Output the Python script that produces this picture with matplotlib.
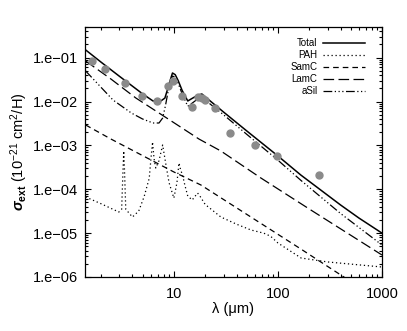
import math
import matplotlib
matplotlib.use("Agg")
import matplotlib.pyplot as plt
from matplotlib.ticker import FixedLocator, FuncFormatter, LogLocator, NullFormatter

plt.rcParams['font.family'] = ['Liberation Sans', 'DejaVu Sans']
plt.rcParams['mathtext.fontset'] = 'custom'
plt.rcParams['mathtext.rm'] = 'Liberation Sans'
plt.rcParams['mathtext.it'] = 'Liberation Sans:italic'
plt.rcParams['mathtext.bf'] = 'Liberation Sans:bold'
plt.rcParams['mathtext.bfit'] = 'Liberation Sans:italic:bold'

# ---- data (wavelength in micron, cross-section in 1e-21 cm^2/H) ----
total_wl = [1.42, 2.0, 3.0, 5.0, 6.3, 7.5, 8.2, 8.7, 9.2, 9.7, 10.3, 11.0, 12.0,
            13.6, 15.0, 17.0, 18.6, 20.0, 30.0, 50.0, 100.0, 166.0, 400.0, 600.0, 1000.0]
total_val = [0.150, 0.0788, 0.0376, 0.0150, 0.0103, 0.0103, 0.012, 0.019, 0.030, 0.0447,
             0.041, 0.030, 0.018, 0.0103, 0.0118, 0.014, 0.01485, 0.0128, 5.77e-3,
             2.15e-3, 5.74e-4, 2.11e-4, 4.38e-5, 2.21e-5, 1.0e-5]

pah_wl = [1.42, 2.0, 2.96, 3.15, 3.25, 3.3, 3.35, 3.45, 4.0, 4.6, 5.18, 5.8, 6.0, 6.24,
          6.45, 6.7, 7.2, 7.8, 8.1, 8.4, 9.0, 10.0, 10.7, 11.2, 11.6, 12.1, 12.8, 13.6,
          15.0, 16.9, 17.8, 20.0, 28.3, 40.0, 55.0, 73.0, 85.0, 100.0, 167.0, 302.0, 1000.0]
pah_val = [6.67e-5, 4.67e-5, 3.03e-5, 3.5e-5, 3.0e-4, 7.45e-4, 3.0e-4, 3.5e-5, 2.33e-5,
           3.2e-5, 6.8e-5, 1.78e-4, 4.5e-4, 1.2e-3, 5.0e-4, 3.05e-4, 4.5e-4, 1.02e-3,
           6.0e-4, 3.57e-4, 1.4e-4, 6.3e-5, 1.4e-4, 3.97e-4, 2.8e-4, 2.11e-4, 1.2e-4,
           7.0e-5, 5.7e-5, 8.2e-5, 7.0e-5, 4.5e-5, 2.33e-5, 1.6e-5, 1.18e-5, 1.0e-5,
           8.5e-6, 5.96e-6, 2.71e-6, 2.2e-6, 1.69e-6]

samc_wl = [1.42, 2.48, 10.0, 18.2, 55.0, 166.0, 402.0, 1000.0]
samc_val = [2.92e-3, 1.40e-3, 2.48e-4, 1.25e-4, 2.33e-5, 4.35e-6, 1.11e-6, 2.7e-7]

lamc_wl = [1.42, 2.48, 4.31, 10.45, 17.4, 28.3, 68.5, 207.0, 1000.0]
lamc_val = [0.084, 0.0327, 0.01205, 3.08e-3, 1.40e-3, 7.45e-4, 1.81e-4, 3.37e-5, 3.17e-6]

asil_wl = [1.42, 2.6, 3.9, 5.0, 6.3, 7.2, 7.8, 8.3, 8.8, 9.3, 9.7, 10.3, 11.0, 12.0,
           13.6, 15.0, 17.0, 18.6, 20.0, 30.0, 50.0, 100.0, 166.0, 400.0, 1000.0]
asil_val = [0.0497, 0.01084, 5.48e-3, 4.0e-3, 3.24e-3, 3.24e-3, 4.2e-3, 8.0e-3, 0.017,
            0.029, 0.038, 0.036, 0.026, 0.015, 7.8e-3, 9.2e-3, 0.0115, 0.0122, 0.0108,
            5.0e-3, 1.8e-3, 4.6e-4, 1.6e-4, 2.8e-5, 5.37e-6]

obs_wl = [1.62, 2.18, 3.39, 4.96, 6.96, 8.84, 9.74, 11.9, 14.8, 17.2, 18.6, 19.9, 24.8,
          34.6, 59.7, 98.9, 248.0]
obs_val = [0.084, 0.0543, 0.0269, 0.0136, 0.0103, 0.0226, 0.0294, 0.0136, 7.62e-3,
           0.0129, 0.01186, 0.01084, 7.01e-3, 1.89e-3, 1.02e-3, 5.82e-4, 2.11e-4]

labels = ['Total', 'PAH', 'SamC', 'LamC', 'aSil']
x_major = [10, 100, 1000]
y_major = [1e-6, 1e-5, 1e-4, 1e-3, 1e-2, 1e-1]

fig = plt.figure(figsize=(4.07, 3.31), dpi=100)
ax = fig.add_axes([85/407, 1 - 277/331, 297/407, 250/331])

ax.plot(total_wl, total_val, color='black', lw=1.1, ls='-', label=labels[0])
ax.plot(pah_wl, pah_val, color='black', lw=0.9, ls=(0, (1, 2.2)), label=labels[1])
ax.plot(samc_wl, samc_val, color='black', lw=0.9, ls=(0, (4.5, 3.2)), label=labels[2])
ax.plot(lamc_wl, lamc_val, color='black', lw=0.9, ls=(0, (8.5, 3.5)), label=labels[3])
ax.plot(asil_wl, asil_val, color='black', lw=0.9,
        ls=(0, (7, 2, 1, 2, 1, 2, 1, 2)), label=labels[4])
ax.plot(obs_wl, obs_val, ls='none', marker='o', ms=5.0, mfc='#8a8a8a', mec='#8a8a8a',
        zorder=5)

ax.set_xscale('log')
ax.set_yscale('log')
ax.set_xlim(1.4, 1000)
ax.set_ylim(1e-6, 0.5)

ax.xaxis.set_major_locator(FixedLocator(x_major))
ax.xaxis.set_major_formatter(FuncFormatter(lambda v, p: '%d' % round(v)))
ax.xaxis.set_minor_locator(LogLocator(base=10, subs=range(2, 10)))
ax.xaxis.set_minor_formatter(NullFormatter())
ax.yaxis.set_major_locator(FixedLocator(y_major))
ax.yaxis.set_major_formatter(FuncFormatter(
    lambda v, p: '1.e\u2212%02d' % round(-math.log10(v))))
ax.yaxis.set_minor_locator(LogLocator(base=10, subs=range(2, 10)))
ax.yaxis.set_minor_formatter(NullFormatter())

ax.tick_params(which='both', direction='in', top=True, right=True, width=0.8,
               labelsize=10.5, colors='black')
ax.tick_params(which='major', length=4.5)
ax.tick_params(which='minor', length=2.2)
ax.tick_params(axis='x', pad=7)
ax.tick_params(axis='y', pad=5)
for s in ax.spines.values():
    s.set_linewidth(0.9)

ax.set_xlabel('λ (μm)', fontsize=10.5, labelpad=1)
ax.set_ylabel(r'$\mathbfit{\sigma}_{\mathbf{ext}}$ (10$^{-21}$ cm$^{2}$/H)', fontsize=10.5,
              labelpad=2)

leg = ax.legend(loc='upper right', bbox_to_anchor=(0.943, 0.955), frameon=False,
                markerfirst=False, fontsize=7, handlelength=4.3, handletextpad=0.6,
                labelspacing=0.2, borderpad=0, borderaxespad=0)

fig.savefig('out.png', dpi=100)
